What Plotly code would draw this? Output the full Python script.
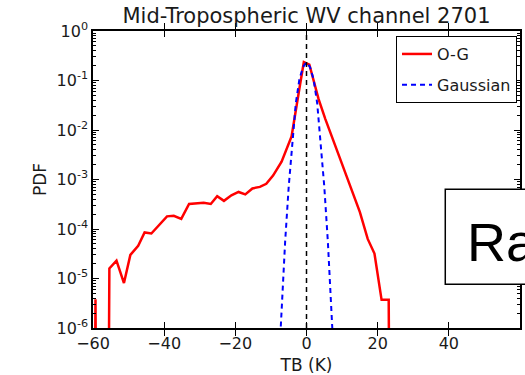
import plotly.graph_objects as go

# O-G histogram PDF (bin centre in K, PDF). 1e-30 stands for empty bins (zero),
# which matplotlib clipped to a tiny value on the log axis.
og_x = [-61.3, -59.3, -57.3, -55.4, -53.4, -51.3, -49.5, -47.3, -45.5, -43.6,
        -41.3, -39.2, -37.3, -35.2, -33.0, -31.0, -28.9, -26.9, -25.1, -23.2,
        -21.1, -19.1, -17.2, -15.2, -13.1, -11.3, -9.4, -7.0, -4.2, -2.2,
        -0.75, 0.8, 3.4, 5.3, 7.3, 9.3, 11.2, 13.1, 15.0, 17.2,
        19.1, 21.1, 23.1, 25.1]
og_pdf = [1e-30, 3.8e-6, 1e-30, 1.6e-5, 2.3e-5, 8.1e-6, 3.0e-5, 4.6e-5, 8.5e-5, 8.1e-5,
          1.2e-4, 1.8e-4, 1.85e-4, 1.6e-4, 3.2e-4, 3.3e-4, 3.4e-4, 3.2e-4, 4.6e-4, 3.7e-4,
          4.8e-4, 5.6e-4, 5.0e-4, 6.6e-4, 7.1e-4, 8.2e-4, 1.2e-3, 2.3e-3, 7.4e-3, 5.6e-2,
          0.235, 0.21, 0.042, 0.0166, 7.1e-3, 2.8e-3, 1.2e-3, 5.2e-4, 2.2e-4, 6.3e-5,
          3.2e-5, 3.7e-6, 3.7e-6, 1e-30]

# Fitted Gaussian PDF
gauss_x = [-8, -7, -6, -5, -4, -3, -2, -1, 0, 1, 2, 3, 4, 5, 6, 7, 8]
gauss_pdf = [8.7e-8, 2.8e-6, 5.6e-5, 7.2e-4, 5.0e-3, 0.035, 0.105, 0.186, 0.234,
             0.186, 0.105, 0.035, 5.0e-3, 7.2e-4, 5.6e-5, 2.8e-6, 8.7e-8]

x_tick_vals = [-60, -40, -20, 0, 20, 40]
x_tick_text = ["\u221260", "\u221240", "\u221220", "0", "20", "40"]
y_decades = [0, -1, -2, -3, -4, -5, -6]
y_tick_vals = [10.0 ** d for d in y_decades]
y_tick_text = ["10<sup>%d</sup>" % d for d in y_decades]
y_minor_vals = [m * 10.0 ** d for d in y_decades[1:] for m in range(2, 10)]

FONT = "DejaVu Sans"
TXT = "#1a1a1a"

fig = go.Figure()
fig.add_trace(go.Scatter(x=og_x, y=og_pdf, mode="lines", name="O-G",
                         legendgroup="a",
                         line=dict(color="rgb(255,0,0)", width=2.5)))
fig.add_trace(go.Scatter(x=gauss_x, y=gauss_pdf, mode="lines", name="Gaussian",
                         legendgroup="b",
                         line=dict(color="rgb(0,0,255)", width=2, dash="5px,4px")))

# vertical zero line
fig.add_shape(type="line", xref="x", yref="paper", x0=0, x1=0, y0=0, y1=1,
              line=dict(color="black", width=1.5, dash="5px,4px"))

# overlaid slide text box (partially cut off)
fig.add_shape(type="rect", xref="paper", yref="paper", x0=0.825, x1=1.2, y0=0.147, y1=0.467,
              fillcolor="white", line=dict(color="black", width=1.5), layer="above")
fig.add_annotation(xref="paper", yref="paper", x=0.871, y=0.29, xanchor="left", yanchor="middle",
                   text="Ra", showarrow=False,
                   font=dict(family="Liberation Sans", size=54, color="black"))

fig.update_layout(
    width=525, height=375,
    margin=dict(l=93, r=3, t=31, b=44),
    paper_bgcolor="white", plot_bgcolor="white",
    font=dict(family=FONT, color=TXT),
    title=dict(text="Mid-Tropospheric WV channel 2701", x=0.5, xref="paper", xanchor="center",
               y=1 - 16 / 375, yanchor="middle", font=dict(size=21, color=TXT)),
    legend=dict(x=0.993, y=0.983, xanchor="right", yanchor="top",
                bordercolor="black", borderwidth=1, bgcolor="white",
                font=dict(size=16, color=TXT), tracegroupgap=7, traceorder="grouped"),
    showlegend=True,
    # overlay axis carrying the minor log ticks (both sides)
    yaxis2=dict(type="log", range=[-6, 0], overlaying="y", side="left",
                tickmode="array", tickvals=y_minor_vals, showticklabels=False,
                ticks="inside", ticklen=3, tickwidth=1, tickcolor="black",
                showline=True, linecolor="black", linewidth=1.5, mirror="allticks",
                showgrid=False, zeroline=False),
)
fig.update_xaxes(range=[-60, 60], tickvals=x_tick_vals, ticktext=x_tick_text,
                 showline=True, linecolor="black", linewidth=1.5, mirror="allticks",
                 ticks="inside", ticklen=6, tickcolor="black", showgrid=False, zeroline=False,
                 tickfont=dict(size=16, color=TXT),
                 title=dict(text="TB (K)", font=dict(size=17, color=TXT), standoff=7))
fig.update_yaxes(selector=dict(anchor="x"), overwrite=False)
fig.layout.yaxis.update(type="log", range=[-6, 0], tickvals=y_tick_vals, ticktext=y_tick_text,
                        showline=True, linecolor="black", linewidth=1.5, mirror="allticks",
                        ticks="inside", ticklen=6, tickcolor="black", showgrid=False, zeroline=False,
                        tickfont=dict(size=16, color=TXT),
                        title=dict(text="PDF", font=dict(size=17, color=TXT), standoff=6))

# invisible trace to activate the minor-tick overlay axis
fig.add_trace(go.Scatter(x=[0], y=[1e-3], yaxis="y2", mode="markers", showlegend=False,
                         hoverinfo="skip", marker=dict(opacity=0)))

fig.write_html("out.html")
